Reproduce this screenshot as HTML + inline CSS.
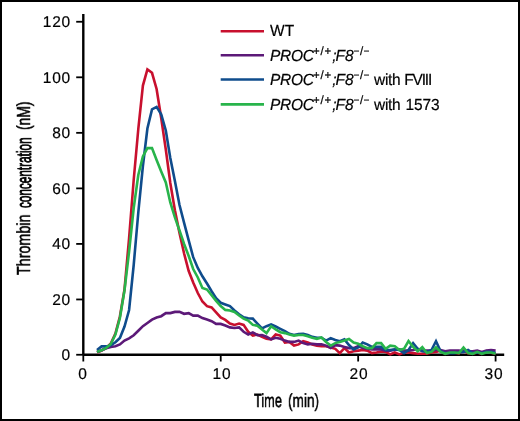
<!DOCTYPE html>
<html><head><meta charset="utf-8"><title>Thrombin generation</title>
<style>
html,body{margin:0;padding:0;background:#fff;}
body{width:520px;height:421px;overflow:hidden;position:relative;font-family:"Liberation Sans",sans-serif;color:#000;}
#frame{position:absolute;left:0;top:0;width:516px;height:417px;border:2px solid #000;box-sizing:content-box;}
.t{position:absolute;white-space:nowrap;font-size:15.5px;line-height:14px;will-change:transform;text-rendering:geometricPrecision;transform-origin:0 12.37px;transform:scaleY(1.045);-webkit-text-stroke:0.2px #000;}
.yl{transform:none;text-align:right;width:40px;left:31.2px;letter-spacing:0.8px;}
.xl{transform:none;text-align:center;width:40px;letter-spacing:0.8px;}
.lg{left:269.9px;transform:scaleY(1.04);}
.lg i{font-style:italic;}
.lg sup{font-size:11.5px;line-height:0;vertical-align:baseline;position:relative;top:-6.5px;font-style:normal;}
.lg sup.p{letter-spacing:0.7px;margin-left:-0.5px;}
.lg sup.m{margin-left:0.25px;}
.lg .d{display:inline-block;width:5px;height:1.05px;background:#111;vertical-align:baseline;position:relative;top:-2.1px;margin:0 0.55px;}
.lg .pr{letter-spacing:-0.3px;}
.lg .f8{letter-spacing:0px;margin-left:-1.0px;}
.lg .sc{margin-left:0.3px;}
.lg .w{margin-left:4.9px;letter-spacing:-0.35px;}
.lg .fv{margin-left:3.9px;letter-spacing:-1.15px;}
.lg .nm{margin-left:5.3px;letter-spacing:-0.1px;}
.ax{font-size:19px;line-height:19px;-webkit-text-stroke:0.3px #000;}
</style></head><body>
<div id="frame"></div>

<svg width="520" height="421" viewBox="0 0 520 421" style="position:absolute;left:0;top:0">
<g stroke="#000" stroke-width="2.4" fill="none">
<line x1="83.30" y1="13.9" x2="83.30" y2="354.75"/>
<line x1="83.30" y1="354.75" x2="504.2" y2="354.75"/>
</g>
<g stroke="#000" stroke-width="1.8" fill="none">
<line x1="76.2" y1="354.75" x2="83.30" y2="354.75"/>
<line x1="76.2" y1="299.46" x2="83.30" y2="299.46"/>
<line x1="76.2" y1="243.92" x2="83.30" y2="243.92"/>
<line x1="76.2" y1="188.38" x2="83.30" y2="188.38"/>
<line x1="76.2" y1="132.84" x2="83.30" y2="132.84"/>
<line x1="76.2" y1="77.30" x2="83.30" y2="77.30"/>
<line x1="76.2" y1="21.76" x2="83.30" y2="21.76"/>
<line x1="83.30" y1="354.75" x2="83.30" y2="361.5"/>
<line x1="220.73" y1="354.75" x2="220.73" y2="361.5"/>
<line x1="358.16" y1="354.75" x2="358.16" y2="361.5"/>
<line x1="495.59" y1="354.75" x2="495.59" y2="361.5"/>
</g>
<polyline fill="none" stroke="#c8102e" stroke-width="2.6" stroke-linejoin="miter" stroke-linecap="butt" points="97.0,352.5 101.6,350.5 106.2,348.0 110.8,343.5 115.4,333.5 119.9,316.5 124.5,289.5 129.1,238.0 133.7,180.0 138.3,129.0 142.9,85.6 147.4,69.4 152.0,72.8 156.6,89.0 161.2,118.0 165.8,149.5 170.3,183.0 174.9,210.3 179.5,233.0 184.1,253.5 188.7,271.0 193.2,282.5 197.8,293.0 202.4,301.5 207.0,306.2 211.6,307.4 216.1,312.4 220.7,317.4 225.3,319.9 229.9,323.6 234.5,324.9 239.1,323.6 243.6,324.9 248.2,331.8 252.8,335.5 257.4,334.5 262.0,336.8 266.5,338.7 271.1,339.4 275.7,334.4 280.3,335.6 284.9,342.5 289.4,341.9 294.0,345.6 298.6,344.4 303.2,341.2 307.8,342.5 312.3,344.4 316.9,345.6 321.5,346.2 326.1,346.2 330.7,347.5 335.3,348.8 339.8,353.1 344.4,348.1 349.0,352.5 353.6,351.2 358.2,350.6 362.7,350.0 367.3,350.6 371.9,353.1 376.5,352.5 381.1,351.5 385.6,351.9 390.2,354.4 394.8,352.5 399.4,354.4 404.0,352.5 408.5,352.5 413.1,353.1 417.7,353.8 422.3,353.8 426.9,353.8 431.5,352.5 436.0,351.9 440.6,350.6 445.2,353.8 449.8,352.8 454.4,352.8 458.9,353.3 463.5,350.5 468.1,353.3 472.7,353.8 477.3,352.5 481.8,353.8 486.4,351.2 491.0,352.8 495.6,353.8"/>
<polyline fill="none" stroke="#5c1978" stroke-width="2.6" stroke-linejoin="miter" stroke-linecap="butt" points="97.0,352.0 101.6,350.3 106.2,348.2 110.8,346.9 115.4,346.3 119.9,344.4 124.5,340.6 129.1,338.3 133.7,335.3 138.3,330.8 142.9,326.2 147.4,323.0 152.0,319.6 156.6,317.5 161.2,316.2 165.8,313.1 170.3,313.1 174.9,311.9 179.5,311.9 184.1,313.8 188.7,313.1 193.2,315.6 197.8,315.6 202.4,318.1 207.0,319.6 211.6,321.2 216.1,323.9 220.7,323.9 225.3,325.5 229.9,327.4 234.5,328.0 239.1,327.4 243.6,331.8 248.2,334.5 252.8,332.4 257.4,335.2 262.0,335.1 266.5,336.8 271.1,339.4 275.7,337.8 280.3,338.8 284.9,340.6 289.4,341.9 294.0,341.9 298.6,340.6 303.2,343.1 307.8,344.4 312.3,343.8 316.9,344.4 321.5,344.2 326.1,345.6 330.7,348.1 335.3,345.2 339.8,345.6 344.4,346.9 349.0,348.1 353.6,348.1 358.2,346.2 362.7,348.1 367.3,348.8 371.9,349.4 376.5,349.4 381.1,349.4 385.6,350.6 390.2,350.6 394.8,349.8 399.4,349.4 404.0,350.6 408.5,350.6 413.1,350.0 417.7,348.8 422.3,350.6 426.9,350.6 431.5,350.6 436.0,350.0 440.6,350.0 445.2,351.2 449.8,350.6 454.4,350.6 458.9,350.6 463.5,351.2 468.1,351.2 472.7,351.2 477.3,350.6 481.8,351.9 486.4,350.6 491.0,350.0 495.6,350.6"/>
<polyline fill="none" stroke="#0f4c8c" stroke-width="2.6" stroke-linejoin="miter" stroke-linecap="butt" points="97.0,350.0 101.6,346.4 106.2,346.4 110.8,345.4 115.4,342.3 119.9,338.0 124.5,326.5 129.1,310.0 133.7,265.0 138.3,212.5 142.9,166.0 147.4,128.5 152.0,109.4 156.6,106.9 161.2,114.4 165.8,130.5 170.3,158.0 174.9,181.0 179.5,205.0 184.1,222.9 188.7,240.3 193.2,257.2 197.8,268.0 202.4,276.3 207.0,283.5 211.6,291.2 216.1,298.3 220.7,302.8 225.3,304.5 229.9,306.1 234.5,310.5 239.1,314.2 243.6,317.4 248.2,318.2 252.8,318.6 257.4,323.6 262.0,328.4 266.5,326.2 271.1,324.4 275.7,326.5 280.3,328.8 284.9,331.2 289.4,333.8 294.0,335.0 298.6,334.0 303.2,333.8 307.8,335.0 312.3,336.9 316.9,337.8 321.5,337.7 326.1,340.6 330.7,338.1 335.3,340.0 339.8,341.2 344.4,339.4 349.0,345.0 353.6,349.4 358.2,347.5 362.7,342.5 367.3,344.4 371.9,346.9 376.5,346.9 381.1,346.9 385.6,350.0 390.2,350.0 394.8,349.4 399.4,350.0 404.0,353.1 408.5,350.0 413.1,343.1 417.7,348.8 422.3,351.2 426.9,351.9 431.5,350.0 436.0,341.2 440.6,351.2 445.2,353.1 449.8,353.1 454.4,353.1 458.9,352.5 463.5,351.9 468.1,350.0 472.7,353.1 477.3,352.5 481.8,353.1 486.4,351.9 491.0,351.9 495.6,353.1"/>
<polyline fill="none" stroke="#28b44b" stroke-width="2.6" stroke-linejoin="miter" stroke-linecap="butt" points="97.0,352.0 101.6,350.3 106.2,348.0 110.8,344.0 115.4,334.5 119.9,318.0 124.5,290.4 129.1,251.5 133.7,208.0 138.3,175.0 142.9,156.5 147.4,148.1 152.0,148.1 156.6,160.0 161.2,171.5 165.8,182.5 170.3,202.5 174.9,217.4 179.5,230.5 184.1,244.0 188.7,256.0 193.2,269.0 197.8,277.5 202.4,288.0 207.0,289.5 211.6,295.3 216.1,300.8 220.7,306.1 225.3,309.9 229.9,310.5 234.5,312.0 239.1,315.5 243.6,318.6 248.2,320.5 252.8,324.9 257.4,325.8 262.0,329.6 266.5,333.1 271.1,326.2 275.7,329.4 280.3,332.2 284.9,333.1 289.4,334.4 294.0,335.6 298.6,335.0 303.2,335.0 307.8,336.2 312.3,337.8 316.9,338.8 321.5,337.5 326.1,341.9 330.7,345.6 335.3,343.1 339.8,341.9 344.4,340.6 349.0,339.0 353.6,342.5 358.2,343.8 362.7,346.2 367.3,348.1 371.9,348.1 376.5,343.1 381.1,343.1 385.6,348.8 390.2,345.6 394.8,346.2 399.4,350.0 404.0,348.8 408.5,341.0 413.1,346.9 417.7,351.2 422.3,347.2 426.9,353.1 431.5,351.9 436.0,347.4 440.6,351.9 445.2,353.8 449.8,352.5 454.4,352.5 458.9,353.1 463.5,347.5 468.1,353.1 472.7,353.8 477.3,351.9 481.8,353.8 486.4,352.5 491.0,352.5 495.6,353.8"/>
<line x1="220.7" y1="31.2" x2="264" y2="31.2" stroke="#c8102e" stroke-width="2.6"/>
<line x1="220.7" y1="55.2" x2="264" y2="55.2" stroke="#5c1978" stroke-width="2.6"/>
<line x1="220.7" y1="79.5" x2="264" y2="79.5" stroke="#0f4c8c" stroke-width="2.6"/>
<line x1="220.7" y1="104.4" x2="264" y2="104.4" stroke="#28b44b" stroke-width="2.6"/>
</svg>
<div class="t yl" style="top:349px">0</div>
<div class="t yl" style="top:294px">20</div>
<div class="t yl" style="top:238px">40</div>
<div class="t yl" style="top:183px">60</div>
<div class="t yl" style="top:127px">80</div>
<div class="t yl" style="top:72px">100</div>
<div class="t yl" style="top:16px">120</div>
<div class="t xl" style="left:63.1px;top:368px">0</div>
<div class="t xl" style="left:202.0px;top:368px">10</div>
<div class="t xl" style="left:339.1px;top:368px">20</div>
<div class="t xl" style="left:473.7px;top:368px">30</div>
<div class="t lg" style="top:25.0px">WT</div>
<div class="t lg" style="top:49.6px"><i class="pr">PROC</i><sup class="p">+/+</sup><i class="sc">;</i><i class="f8">F8</i><sup class="m"><span class="d"></span>/<span class="d"></span></sup></div>
<div class="t lg" style="top:74.0px"><i class="pr">PROC</i><sup class="p">+/+</sup><i class="sc">;</i><i class="f8">F8</i><sup class="m"><span class="d"></span>/<span class="d"></span></sup><span class="w">with</span><span class="fv">FVIII</span></div>
<div class="t lg" style="top:99.1px"><i class="pr">PROC</i><sup class="p">+/+</sup><i class="sc">;</i><i class="f8">F8</i><sup class="m"><span class="d"></span>/<span class="d"></span></sup><span class="w">with</span><span class="nm">1573</span></div>
<div class="t ax" id="x1" style="left:254.2px;top:392.0px;font-size:19.0px;transform-origin:0 0;transform:scaleX(0.6730);-webkit-text-stroke:0.60px #000">Time</div>
<div class="t ax" id="x2" style="left:287.7px;top:392.0px;font-size:19.0px;transform-origin:0 0;transform:scaleX(0.7160);-webkit-text-stroke:0.50px #000">(min)</div>
<div class="t ax" id="w1" style="left:15.0px;top:275.0px;font-size:19.0px;transform-origin:0 0;transform:rotate(-90deg) scaleX(0.7530);-webkit-text-stroke:0.55px #000">Thrombin</div>
<div class="t ax" id="w2" style="left:14.5px;top:207.6px;font-size:20.5px;transform-origin:0 0;transform:rotate(-90deg) scaleX(0.5730);-webkit-text-stroke:0.85px #000">concentration</div>
<div class="t ax" id="w3" style="left:15.0px;top:129.8px;font-size:19.0px;transform-origin:0 0;transform:rotate(-90deg) scaleX(0.7290);-webkit-text-stroke:0.55px #000">(nM)</div>
</body></html>
